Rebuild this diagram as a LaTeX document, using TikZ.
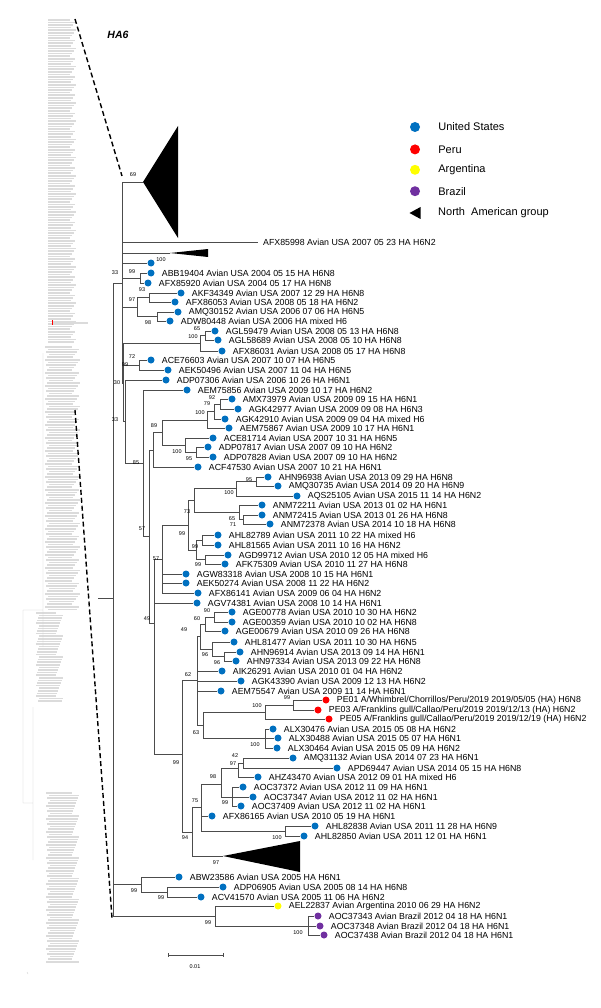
\documentclass[tikz,border=0pt]{standalone}
\usepackage{fontspec}
\setmainfont{Liberation Sans}
\usetikzlibrary{positioning}
\definecolor{usblue}{RGB}{0,112,192}
\definecolor{perured}{RGB}{255,0,0}
\definecolor{argyellow}{RGB}{255,255,0}
\definecolor{brpurple}{RGB}{112,48,160}
\tikzset{
  br/.style={black!70, line width=0.5pt},
  dot/.style={circle, fill=usblue, inner sep=0pt, minimum size=7pt},
  lab/.style={anchor=west, inner sep=0pt, font=\fontsize{8.8}{9}\selectfont},
  bs/.style={inner sep=0pt, font=\fontsize{5.5}{6}\selectfont},
  key/.style={anchor=west, inner sep=0pt, font=\fontsize{11}{12}\selectfont},
  thumb/.style={black!14},
}
\begin{document}
\begin{tikzpicture}[x=1pt, y=-1pt]
\useasboundingbox[fill=white] (0,0) rectangle (600,1008);

% small overview tree on the left
\foreach \i in {0,...,124}
  \fill[thumb] (48,{19+2.6*\i}) rectangle ({70+mod(5*\i,7)},{20.6+2.6*\i});
\foreach \i in {0,...,101}
  \fill[thumb] ({45+mod(3*\i,5)},{346+2.6*\i}) rectangle ({72+mod(7*\i,9)},{347.6+2.6*\i});
\foreach \i in {0,...,34}
  \fill[thumb] ({36+mod(3*\i,4)},{612+2.6*\i}) rectangle ({56+mod(7*\i,8)},{613.6+2.6*\i});
\foreach \i in {0,...,65}
  \fill[thumb] ({46+mod(3*\i,5)},{792+2.6*\i}) rectangle ({72+mod(7*\i,8)},{793.6+2.6*\i});
\fill[thumb] (52,322) rectangle (88,323.6);
\fill[perured] (52,320) rectangle (52.8,325);
\draw[black!20, line width=0.3pt] (43,353) -- (43,647) (23,610) -- (43,610)
  (23,610) -- (23,803) -- (33,803) (33,707) -- (33,860) (27,972) -- (28,974);

% zoom lines
\coordinate (d1) at (75,19);
\coordinate (d2) at (122,176);
\coordinate (d3) at (75,410);
\coordinate (d4) at (112,918);
\draw[line width=1.4pt, dash pattern=on 5pt off 3pt] (d1) -- (d2);
\draw[line width=1.4pt, dash pattern=on 5pt off 3pt] (d3) -- (d4);

\node[font=\bfseries\itshape\fontsize{10.5}{12}\selectfont] (title) at (118,35) {HA6};

% legend
\node[dot, minimum size=10pt] (kUS) at (415,127) {};
\node[dot, minimum size=10pt, fill=perured, below=12pt of kUS] (kPE) {};
\node[dot, minimum size=10pt, fill=argyellow, below=10pt of kPE] (kAR) {};
\node[dot, minimum size=10pt, fill=brpurple, below=11pt of kAR] (kBR) {};
\coordinate (kNA) at (415,213);
\fill ([xshift=-5.5pt]kNA) -- ([xshift=5.5pt,yshift=6pt]kNA) -- ([xshift=5.5pt,yshift=-6pt]kNA) -- cycle;
\node[key, right=18pt of kUS] (tUS) {United States};
\node[key, right=18pt of kPE] (tPE) {Peru};
\node[key, right=18pt of kAR] (tAR) {Argentina};
\node[key, right=18pt of kBR] (tBR) {Brazil};
\node[key] (tNA) at (438,213) {North\ \ American group};

% internal nodes
\coordinate (R0) at (98,598);
\coordinate (R) at (113,598);
\coordinate (n33a) at (122,283);
\coordinate (n99a) at (140,278);
\coordinate (n97) at (137,307);
\coordinate (n93) at (149,297.5);
\coordinate (n98) at (157,316.5);
\coordinate (n30) at (123.5,383);
\coordinate (nAGL) at (200,343);
\coordinate (n65a) at (205,335.5);
\coordinate (n72) at (139,365);
\coordinate (n33b) at (125.5,421.5);
\coordinate (n85) at (143,463);
\coordinate (n57a) at (149,536);
\coordinate (nQ) at (153,450);
\coordinate (n89) at (162,432.5);
\coordinate (n100c) at (207,420);
\coordinate (n79) at (214,411.5);
\coordinate (n92) at (220,404);
\coordinate (n100d) at (185,445);
\coordinate (n95) at (196,452);
\coordinate (n49a) at (154,623);
\coordinate (n57b) at (162,559);
\coordinate (n99b) at (188,525);
\coordinate (n73) at (194,500);
\coordinate (n99y) at (196,550);
\coordinate (n99c) at (202,540);
\coordinate (n99d) at (205,559.5);
\coordinate (n100e) at (236,488.5);
\coordinate (n95b) at (256,481.5);
\coordinate (n65b) at (239,512);
\coordinate (n71) at (243,519.5);
\coordinate (n99e) at (182,754);
\coordinate (n62) at (197,680);
\coordinate (n49b) at (200,636.5);
\coordinate (n60) at (205,624);
\coordinate (n90) at (214,617);
\coordinate (n96a) at (212,649);
\coordinate (n96b) at (224,656.5);
\coordinate (n63) at (203,725);
\coordinate (n100PE) at (265,712);
\coordinate (n99PE) at (293,705);
\coordinate (nALX) at (265,738.5);
\coordinate (n94) at (192,832);
\coordinate (n75) at (201,807.5);
\coordinate (n98b) at (221,784);
\coordinate (n97b) at (238,768);
\coordinate (n42) at (243,763);
\coordinate (n99f) at (232,797);
\coordinate (nAHL) at (285,831);
\coordinate (nABW) at (141,884);
\coordinate (n99g) at (167,892);
\coordinate (nArg) at (215,916);
\coordinate (n100Br) at (308,926);

% collapsed groups
\coordinate (T1) at (143,182);
\coordinate (T2) at (170,253);
\coordinate (T3) at (223,856);
\fill (T1) -- (178,126) -- (178,238) -- cycle;
\fill (T2) -- (208,249) -- (208,257) -- cycle;
\fill (T3) -- (300,841) -- (300,872) -- cycle;

% tips
\coordinate (AFX85998) at (258,242);
\node[lab, right=5pt of AFX85998] (AFX85998-t) {AFX85998 Avian USA 2007 05 23 HA H6N2};
\node[dot] (L100) at (151,263) {};
\foreach \n/\x/\y/\t in {
  ABB19404/151/273/2004 05 15 HA H6N8, AFX85920/148/283/2004 05 17 HA H6N8,
  AKF34349/181/293/2007 12 29 HA H6N8, AFX86053/175/302/2008 05 18 HA H6N2,
  AMQ30152/178/312/2006 07 06 HA H6N5, ADW80448/170/321/2006 HA mixed H6,
  AGL59479/215/331/2008 05 13 HA H6N8, AGL58689/218/340/2008 05 10 HA H6N8,
  AFX86031/222/351/2008 05 17 HA H6N8, ACE76603/151/360/2007 10 07 HA H6N5,
  AEK50496/168/370/2007 11 04 HA H6N5, ADP07306/166/380/2006 10 26 HA H6N1,
  AEM75856/187/390/2009 10 17 HA H6N2, AMX73979/232/399/2009 09 15 HA H6N1,
  AGK42977/238/409/2009 09 08 HA H6N3, AGK42910/225/419/2009 09 04 HA mixed H6,
  AEM75867/229/428/2009 10 17 HA H6N1, ACE81714/213/438/2007 10 31 HA H6N5,
  ADP07817/208/447/2007 09 10 HA H6N2, ADP07828/213/457/2007 09 10 HA H6N2,
  ACF47530/198/467/2007 10 21 HA H6N1, AHN96938/268/477/2013 09 29 HA H6N8,
  AMQ30735/278/486/2014 09 20 HA H6N9, AQS25105/297/496/2015 11 14 HA H6N2,
  ANM72211/262/505/2013 01 02 HA H6N1, ANM72415/262/515/2013 01 26 HA H6N8,
  ANM72378/270/524/2014 10 18 HA H6N8, AHL82789/218/535/2011 10 22 HA mixed H6,
  AHL81565/218/545/2011 10 16 HA H6N2, AGD99712/228/555/2010 12 05 HA mixed H6,
  AFK75309/225/564/2010 11 27 HA H6N8, AGW83318/186/574/2008 10 15 HA H6N1,
  AEK50274/186/583/2008 11 22 HA H6N2, AFX86141/198/593/2009 06 04 HA H6N2,
  AGV74381/197/603/2008 10 14 HA H6N1, AGE00778/232/612/2010 10 30 HA H6N2,
  AGE00359/232/622/2010 10 02 HA H6N8, AGE00679/225/631/2010 09 26 HA H6N8,
  AHL81477/234/642/2011 10 30 HA H6N5, AHN96914/240/652/2013 09 14 HA H6N1,
  AHN97334/236/661/2013 09 22 HA H6N8, AIK26291/222/671/2010 01 04 HA H6N2,
  AGK43390/241/681/2009 12 13 HA H6N2, AEM75547/221/691/2009 11 14 HA H6N1,
  ALX30476/273/729/2015 05 08 HA H6N2, ALX30488/278/738/2015 05 07 HA H6N1,
  ALX30464/277/748/2015 05 09 HA H6N2, AMQ31132/293/758/2014 07 23 HA H6N1,
  APD69447/337/768/2014 05 15 HA H6N8, AHZ43470/258/777/2012 09 01 HA mixed H6,
  AOC37372/243/787/2012 11 09 HA H6N1, AOC37347/253/797/2012 11 02 HA H6N1,
  AOC37409/241/806/2012 11 02 HA H6N1, AFX86165/212/816/2010 05 19 HA H6N1,
  AHL82838/315/826/2011 11 28 HA H6N9, AHL82850/304/836/2011 12 01 HA H6N1,
  ABW23586/179/877/2005 HA H6N1, ADP06905/223/887/2005 08 14 HA H6N8,
  ACV41570/201/897/2005 11 06 HA H6N2}
{
  \node[dot] (\n) at (\x,\y) {};
  \node[lab, right=7pt of \n] (\n-t) {\n\ Avian USA \t};
}
\node[dot, fill=perured] (PE01) at (326,700) {};
\node[dot, fill=perured] (PE03) at (318,710) {};
\node[dot, fill=perured] (PE05) at (329,719) {};
\node[lab, right=7pt of PE01] (PE01-t) {PE01 A/Whimbrel/Chorrillos/Peru/2019 2019/05/05 (HA) H6N8};
\node[lab, right=7pt of PE03] (PE03-t) {PE03 A/Franklins gull/Callao/Peru/2019 2019/12/13 (HA) H6N2};
\node[lab, right=7pt of PE05] (PE05-t) {PE05 A/Franklins gull/Callao/Peru/2019 2019/12/19 (HA) H6N2};
\node[dot, fill=argyellow] (AEL22837) at (278,906) {};
\node[lab, right=7pt of AEL22837] (AEL22837-t) {AEL22837 Avian Argentina 2010 06 29 HA H6N2};
\foreach \n/\x/\y in {AOC37343/318/916, AOC37348/320/926, AOC37438/324/935} {
  \node[dot, fill=brpurple] (\n) at (\x,\y) {};
  \node[lab, right=7pt of \n] (\n-t) {\n\ Avian Brazil 2012 04 18 HA H6N1};
}

% branches
\draw[br] (R0) -- (R);
\foreach \p/\c in {R/n33a, R/nABW, R/nArg,
  n33a/T1, n33a/AFX85998, n33a/T2, n33a/L100, n33a/n99a, n33a/n97, n33a/n30,
  n99a/ABB19404, n99a/AFX85920, n97/n93, n97/n98,
  n93/AKF34349, n93/AFX86053, n98/AMQ30152, n98/ADW80448,
  n30/nAGL, n30/n72, n30/n33b, nAGL/n65a, nAGL/AFX86031,
  n65a/AGL59479, n65a/AGL58689, n72/ACE76603, n72/AEK50496,
  n33b/ADP07306, n33b/n85, n85/AEM75856, n85/n57a,
  n57a/nQ, n57a/n49a, nQ/n89, nQ/ACF47530, n89/n100c, n89/n100d,
  n100c/n79, n100c/AEM75867, n79/n92, n79/AGK42910,
  n92/AMX73979, n92/AGK42977, n100d/ACE81714, n100d/n95,
  n95/ADP07817, n95/ADP07828,
  n49a/n57b, n49a/AGV74381, n49a/n99e,
  n57b/n99b, n57b/AGW83318, n57b/AEK50274, n57b/AFX86141,
  n99b/n73, n99b/n99y, n73/n100e, n73/n65b,
  n100e/n95b, n100e/AQS25105, n95b/AHN96938, n95b/AMQ30735,
  n65b/ANM72211, n65b/n71, n71/ANM72415, n71/ANM72378,
  n99y/n99c, n99y/n99d, n99c/AHL82789, n99c/AHL81565,
  n99d/AGD99712, n99d/AFK75309,
  n99e/n62, n99e/n94,
  n62/n49b, n62/AIK26291, n62/AGK43390, n62/AEM75547, n62/n63,
  n49b/n60, n49b/n96a, n60/n90, n60/AGE00679,
  n90/AGE00778, n90/AGE00359, n96a/AHL81477, n96a/n96b,
  n96b/AHN96914, n96b/AHN97334,
  n63/n100PE, n63/nALX, n100PE/n99PE, n100PE/PE05,
  n99PE/PE01, n99PE/PE03,
  nALX/ALX30476, nALX/ALX30488, nALX/ALX30464,
  n94/n75, n94/T3, n75/n98b, n75/AFX86165, n75/nAHL,
  n98b/n97b, n98b/n99f, n97b/n42, n97b/AHZ43470,
  n42/AMQ31132, n42/APD69447,
  n99f/AOC37372, n99f/AOC37347, n99f/AOC37409,
  nAHL/AHL82838, nAHL/AHL82850,
  nABW/ABW23586, nABW/n99g, n99g/ADP06905, n99g/ACV41570,
  nArg/AEL22837, nArg/n100Br,
  n100Br/AOC37343, n100Br/AOC37348, n100Br/AOC37438}
  \draw[br] (\p) |- (\c);

% bootstrap values
\foreach \x/\y/\t [count=\i] in {
  133/175/69, 161/260/100, 132/272/99, 115/273/33, 142/290/93,
  132/300/97, 148/323/98, 197/329/65, 193/337/100, 132/357/72,
  125/365/99, 117/383/30, 115/420/33, 212/398/92, 207/404/79,
  200/413/100, 154/426/89, 177/452/100, 189/459/95, 136/463/85,
  249/480/95, 229/493/100, 187/512/73, 232/519/65, 233/525/71,
  142/529/57, 182/534/99, 195/547/99, 156/559/57, 198/565/99,
  207/611/90, 147/619/49, 197/619/60, 184/630/49, 205/655/96,
  217/663/96, 188/675/62, 287/698/99, 257/706/100, 196/733/63,
  255/745/100, 235/756/42, 176/763/99, 233/764/97, 213/777/98,
  195/801/75, 225/803/99, 185/838/94, 277/838/100, 216/863/97,
  134/891/99, 161/898/99, 208/923/99, 298/933/100}
  \node[bs] (b\i) at (\x,\y) {\t};

% scale bar
\coordinate (s0) at (168,955);
\coordinate (s1) at (223,955);
\draw[br] (s0) -- (s1);
\draw[br] ([yshift=2pt]s0) -- ([yshift=-2pt]s0);
\draw[br] ([yshift=2pt]s1) -- ([yshift=-2pt]s1);
\node[bs, below=9pt of s0, xshift=27pt] (sc) {0.01};
\end{tikzpicture}
\end{document}
